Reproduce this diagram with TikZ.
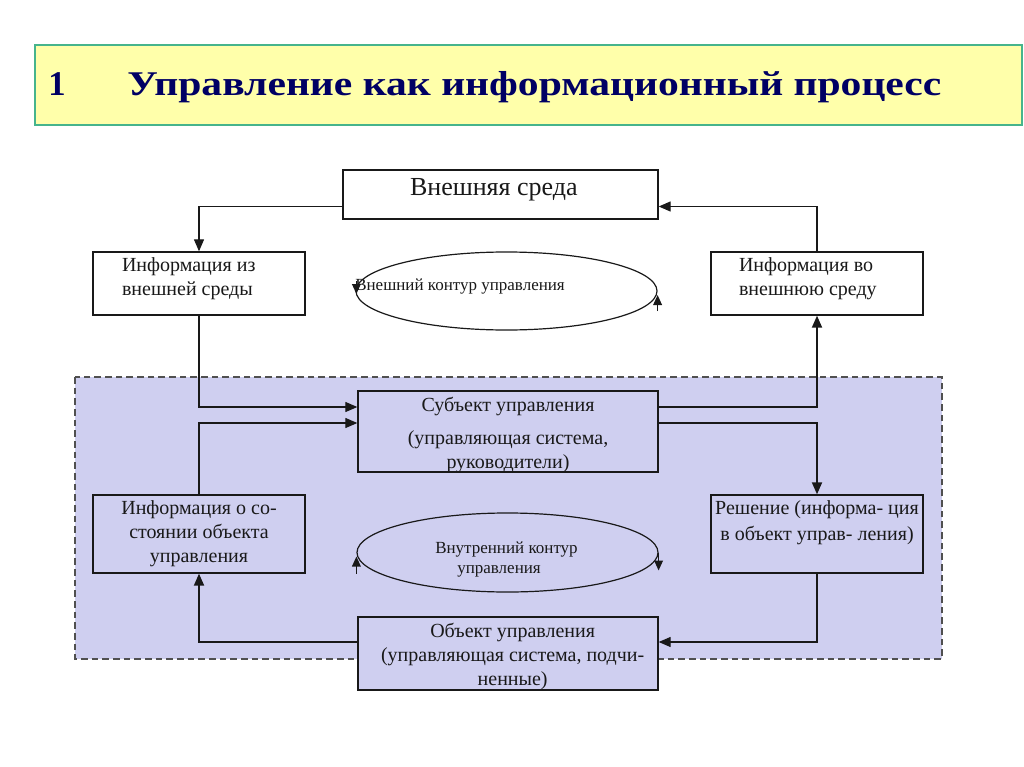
\documentclass[tikz,border=0pt]{standalone}
\usepackage{fontspec}
\setmainfont{Liberation Serif}
\usetikzlibrary{shapes.geometric,arrows.meta,calc}
\definecolor{titlefill}{RGB}{255,255,170}
\definecolor{titleline}{RGB}{70,180,140}
\definecolor{titletext}{RGB}{0,0,100}
\definecolor{lav}{RGB}{207,207,240}
\definecolor{ink}{RGB}{25,25,25}
\definecolor{regionline}{RGB}{80,80,80}
% #1 column type, #2 height above first baseline, #3 depth below it, #4 rows
\newcommand\btxt[4]{\raisebox{0pt}[#2][#3]{\begin{tabular}[t]{@{}#1@{}}#4\end{tabular}}}
\begin{document}
\begin{tikzpicture}[x=0.75pt,y=-0.75pt,
  box/.style={draw=ink, line width=1pt, rectangle, inner sep=0pt, text=ink,
    font=\fontsize{15}{18}\selectfont},
  wbox/.style={box, fill=white},
  lbox/.style={box, fill=lav},
  loopell/.style={draw=ink, line width=0.9pt, ellipse, inner sep=0pt},
  looptext/.style={inner sep=0pt, text=ink, font=\fontsize{12.75}{15}\selectfont},
  conn/.style={draw=ink, line width=0.9pt, -{Triangle[length=9pt,width=7.5pt]}},
  thickconn/.style={conn, line width=1.4pt},
  looparrow/.style={draw=ink, line width=1pt, -{Triangle[length=7.5pt,width=6.5pt]}},
  titlestyle/.style={anchor=base west, inner sep=0pt, text=titletext,
    font=\fontsize{26}{30}\selectfont\bfseries},
]
\useasboundingbox (0,0) rectangle (1024,767);
\fill[white] (0,0) rectangle (1024,767);

% title bar
\draw[fill=titlefill, draw=titleline, line width=1pt] (35,45) rectangle (1022,125);
\node[titlestyle] (num) at (48,95) {1};
\node[titlestyle] (title) at (127,95) {\scalebox{1.2}[1]{Управление как информационный процесс}};

% shaded inner region
\draw[fill=lav, draw=regionline, line width=0.8pt, dash pattern=on 5pt off 3pt] (75,377) rectangle (942,659);

% boxes
\node[wbox, minimum width=236.25pt, minimum height=36.75pt, font=\fontsize{19.5}{22}\selectfont]
  (env) at (500.5,194.5) {\btxt{p{135.75pt}}{18.75pt}{18pt}{Внешняя среда}};
\node[wbox, minimum width=159pt, minimum height=47.25pt]
  (inB) at (199,283.5) {\btxt{p{115.5pt}}{14.25pt}{33pt}{Информация из\\внешней среды}};
\node[wbox, minimum width=159pt, minimum height=47.25pt]
  (outC) at (817,283.5) {\btxt{p{117pt}}{14.25pt}{33pt}{Информация во\\внешнюю среду}};
\node[lbox, minimum width=225pt, minimum height=60.75pt]
  (subj) at (508,431.5) {\btxt{c}{15.5pt}{45.25pt}{Субъект управления\\[6.4pt](управляющая система,\\руководители)}};
\node[lbox, minimum width=159pt, minimum height=58.5pt]
  (stateE) at (199,534) {\btxt{c}{14.25pt}{44.25pt}{Информация о со-\\стоянии объекта\\управления}};
\node[lbox, minimum width=159pt, minimum height=58.5pt]
  (decF) at (817,534) {\btxt{c}{14.25pt}{44.25pt}{Решение (информа- ция\\[1.5pt]в объект управ- ления)}};
\node[lbox, minimum width=225pt, minimum height=54.75pt]
  (obj) at (508,653.5) {\btxt{c}{15pt}{39.75pt}{\hspace*{7pt}Объект управления\\\hspace*{7pt}(управляющая система, подчи-\\\hspace*{7pt}ненные)}};

% loops
\node[loopell, fill=white, minimum width=225.75pt, minimum height=58.5pt] (outer) at (506.5,291) {};
\node[looptext, anchor=base west] (outerT) at (355,290) {Внешний контур управления};
\node[loopell, minimum width=225.75pt, minimum height=59.25pt] (inner) at (507.5,552.5) {};
\node[looptext, anchor=base west] (innerT) at (435,553)
  {\begin{tabular}[t]{@{}l@{}}Внутренний контур\\\hspace*{16.5pt}управления\end{tabular}};

\draw[looparrow] ($(outer.west)+(1,-10)$) -- ($(outer.west)+(1,3)$);
\draw[looparrow] ($(outer.east)+(0,20)$) -- ($(outer.east)+(0,4)$);
\draw[looparrow] ($(inner.west)+(0,21)$) -- ($(inner.west)+(0,4)$);
\draw[looparrow] ($(inner.east)+(0,0)$) -- ($(inner.east)+(0,18)$);

% connectors
\draw[conn] ($(env.west)+(0,12)$) -| (inB.north);
\draw[conn] (outC.north) |- ($(env.east)+(0,12)$);
\draw[conn] (inB.south) |- ($(subj.west)+(0,-24.5)$);
\draw[conn] (stateE.north) |- ($(subj.west)+(0,-8.5)$);
\draw[thickconn] ($(subj.east)+(0,-24.5)$) -| (outC.south);
\draw[thickconn] ($(subj.east)+(0,-8.5)$) -| (decF.north);
\draw[conn] (decF.south) |- ($(obj.east)+(0,-11.5)$);
\draw[thickconn] ($(obj.west)+(0,-11.5)$) -| (stateE.south);
\end{tikzpicture}
\end{document}
